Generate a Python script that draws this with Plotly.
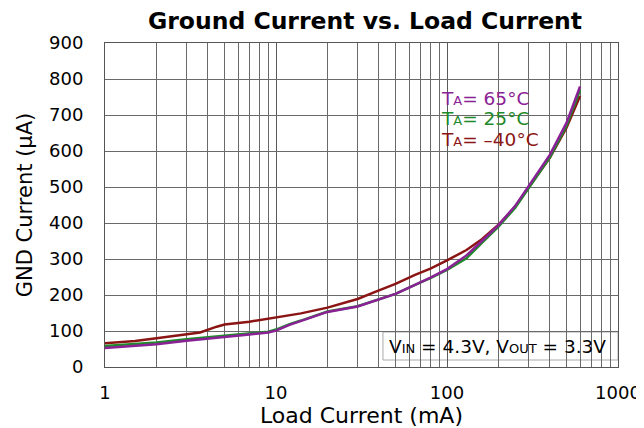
import plotly.graph_objects as go

# Load current (mA)
load_red = [1, 1.5, 2, 3, 3.6, 4.5, 5, 7, 9, 12, 14, 20, 30, 40, 50, 65, 80, 100, 130, 160, 200, 250, 300, 400, 500, 600]
gnd_m40 = [66, 72, 80, 91, 96, 112, 118, 126, 135, 144, 149, 165, 189, 213, 231, 256, 273, 296, 325, 355, 395, 445, 497, 582, 665, 753]

load_other = [1, 1.5, 2, 3, 5, 7, 9, 10, 12, 14, 20, 30, 40, 50, 65, 80, 100, 130, 160, 200, 250, 300, 400, 500, 600]
gnd_25 = [58, 63, 68, 77, 86, 94, 98, 104, 119, 129, 154, 169, 188, 203, 228, 247, 270, 302, 345, 390, 442, 497, 583, 670, 769]
gnd_65 = [53, 58, 63, 73, 82, 90, 96, 101, 117, 128, 153, 168, 187, 203, 228, 248, 272, 310, 350, 394, 447, 502, 590, 678, 779]

x_ticks = [1, 10, 100, 1000]
x_ticktext = ["1", "10", "100", "1000"]
y_ticks = [0, 100, 200, 300, 400, 500, 600, 700, 800, 900]

RED = "#8B1414"
GREEN = "#1E8A2A"
PURPLE = "#8A2296"
FONT = "DejaVu Sans, Verdana, sans-serif"

# the page body adds an 8px offset; the figure is sized to fit the window
OFF = 8
W, H = 644 - OFF, 428 - OFF

fig = go.Figure()
fig.add_trace(go.Scatter(x=load_red, y=gnd_m40, mode="lines", line=dict(color=RED, width=2.5), showlegend=False))
fig.add_trace(go.Scatter(x=load_other, y=gnd_25, mode="lines", line=dict(color=GREEN, width=2.5), showlegend=False))
fig.add_trace(go.Scatter(x=load_other, y=gnd_65, mode="lines", line=dict(color=PURPLE, width=2.5), showlegend=False))

fig.update_layout(
    width=W, height=H,
    margin=dict(l=104.5 - OFF, r=644 - 618.5, t=43 - OFF, b=428 - 367, autoexpand=False),
    paper_bgcolor="white", plot_bgcolor="white",
    font=dict(family=FONT, color="black"),
    title=dict(text="<b>Ground Current vs. Load Current</b>", x=(365 - OFF) / W, xref="container",
               xanchor="center",
               y=1 - (21 - OFF) / H, yref="container", yanchor="middle",
               font=dict(size=23.5, family=FONT, color="black")),
)

fig.update_xaxes(
    type="log", range=[0, 3], automargin=False,
    tickvals=x_ticks, ticktext=x_ticktext,
    tickfont=dict(size=18), ticks="", ticklabelstandoff=9,
    showgrid=True, gridcolor="#5a5a5a", gridwidth=1,
    minor=dict(showgrid=True, gridcolor="#6a6a6a", gridwidth=1, dtick="D1", ticks=""),
    showline=True, linecolor="#555", linewidth=1, mirror=True,
    zeroline=False,
    title=dict(text="Load Current (mA)", font=dict(size=22), standoff=2),
)
fig.update_yaxes(
    range=[0, 900], tickvals=y_ticks, automargin=False,
    tickfont=dict(size=18), ticks="", ticklabelstandoff=17,
    showgrid=True, gridcolor="#6a6a6a", gridwidth=1,
    showline=True, linecolor="#555", linewidth=1, mirror=True,
    zeroline=False,
    title=dict(text="GND Current (µA)", font=dict(size=21), standoff=10),
)

def px_x(p):
    return (p - 104.5) / 514.0

def px_y(p):
    return (367.0 - p) / 324.0

# white box behind temperature labels
fig.add_shape(type="rect", xref="paper", yref="paper",
              x0=px_x(436), x1=px_x(537), y0=px_y(152), y1=px_y(85),
              fillcolor="white", line=dict(width=0), layer="between")
# conditions box
fig.add_shape(type="rect", xref="paper", yref="paper",
              x0=px_x(383), x1=px_x(618.5), y0=px_y(360), y1=px_y(332),
              fillcolor="white", line=dict(color="#aaaaaa", width=1), layer="between")

sub = '<span style="font-size:13px">{}</span>'
labels = [("65°C", PURPLE, 98), ("25°C", GREEN, 118), ("–40°C", RED, 139)]
for txt, col, py in labels:
    fig.add_annotation(xref="paper", yref="paper", x=px_x(439), y=px_y(py),
                       xanchor="left", yanchor="middle", showarrow=False,
                       text="T" + sub.format("A") + "= " + txt,
                       font=dict(size=18.5, color=col, family=FONT))

fig.add_annotation(xref="paper", yref="paper", x=px_x(387), y=px_y(346),
                   xanchor="left", yanchor="middle", showarrow=False,
                   text="V" + sub.format("IN") + " = 4.3V, V" + sub.format("OUT") + " = 3.3V",
                   font=dict(size=18.5, color="black", family=FONT))

fig.write_html("out.html")
